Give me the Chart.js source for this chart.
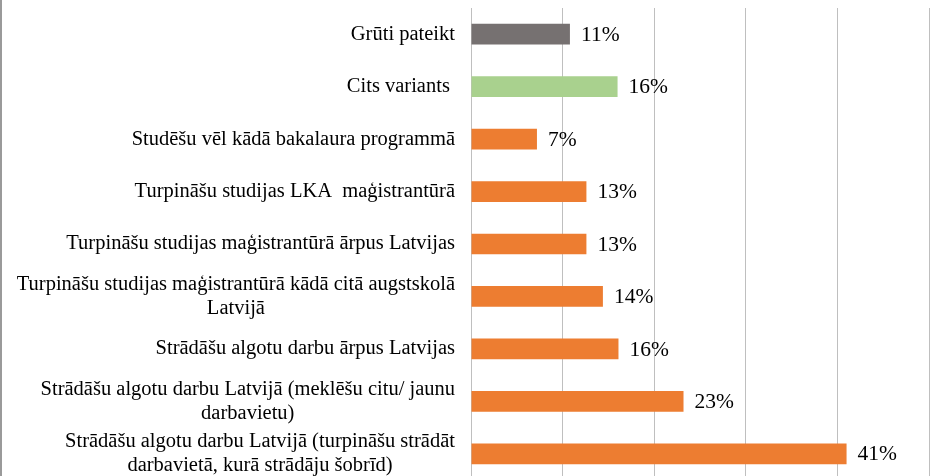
<!DOCTYPE html>
<html>
<head>
<meta charset="utf-8">
<script src="https://cdn.jsdelivr.net/npm/chart.js@4"></script>
<style>
  html, body { margin: 0; padding: 0; background: #fff; overflow: hidden; }
  #wrap { width: 935px; height: 476px; overflow: hidden; }
</style>
</head>
<body>
<div id="wrap"><canvas id="chart" width="935" height="480"></canvas></div>
<script>
// categories, top to bottom (multi-line labels as arrays)
const categories = [
    ["Grūti pateikt"],
    ["Cits variants "],
    ["Studēšu vēl kādā bakalaura programmā"],
    ["Turpināšu studijas LKA  maģistrantūrā"],
    ["Turpināšu studijas maģistrantūrā ārpus Latvijas"],
    ["Turpināšu studijas maģistrantūrā kādā citā augstskolā", "Latvijā"],
    ["Strādāšu algotu darbu ārpus Latvijas"],
    ["Strādāšu algotu darbu Latvijā (meklēšu citu/ jaunu", "darbavietu)"],
    ["Strādāšu algotu darbu Latvijā (turpināšu strādāt", "darbavietā, kurā strādāju šobrīd)"]
];

// share of respondents, %
const shares = [10.8, 16.0, 7.2, 12.6, 12.6, 14.4, 16.1, 23.2, 41.0];

const barColors = [
    "#767171", "#A9D18E", "#ED7D31", "#ED7D31", "#ED7D31",
    "#ED7D31", "#ED7D31", "#ED7D31", "#ED7D31"
];

const xTicks = [0, 10, 20, 30, 40, 50];

const FONT = "'Liberation Serif', 'Times New Roman', serif";

// category labels: block right-aligned to the axis, lines centred inside it
const categoryLabels = {
    id: "categoryLabels",
    afterDraw(chart) {
        const ctx = chart.ctx;
        const y = chart.scales.y;
        const right = chart.chartArea.left - 16;
        const lineH = 24;
        ctx.save();
        ctx.font = "20.5px " + FONT;
        ctx.fillStyle = "#000";
        ctx.textAlign = "center";
        ctx.textBaseline = "middle";
        categories.forEach((lines, i) => {
            const w = Math.max(...lines.map(l => ctx.measureText(l).width));
            const cx = right - w / 2;
            const cy = y.getPixelForTick(i);
            const top = cy - (lines.length - 1) * lineH / 2;
            lines.forEach((l, k) => ctx.fillText(l, cx, top + k * lineH));
        });
        ctx.restore();
    }
};

const valueLabels = {
    id: "valueLabels",
    afterDatasetsDraw(chart) {
        const ctx = chart.ctx;
        const meta = chart.getDatasetMeta(0);
        ctx.save();
        ctx.font = "21.5px " + FONT;
        ctx.fillStyle = "#000";
        ctx.textAlign = "left";
        ctx.textBaseline = "middle";
        meta.data.forEach((bar, i) => {
            ctx.fillText(Math.round(shares[i]) + "%", bar.x + 11, bar.y + 1);
        });
        ctx.restore();
    }
};

const frame = {
    id: "frame",
    beforeDraw(chart) {
        const ctx = chart.ctx;
        ctx.save();
        ctx.strokeStyle = "#9a9a9a";
        ctx.lineWidth = 2;
        ctx.beginPath();
        ctx.moveTo(1, 0);
        ctx.lineTo(1, chart.height);
        ctx.stroke();
        ctx.restore();
    }
};

new Chart(document.getElementById("chart"), {
    type: "bar",
    data: {
        labels: categories,
        datasets: [{
            data: shares,
            backgroundColor: barColors,
            barPercentage: 0.395,
            categoryPercentage: 1
        }]
    },
    options: {
        indexAxis: "y",
        responsive: false,
        animation: false,
        layout: { padding: { top: 8, right: 6, bottom: 0, left: 0 } },
        plugins: { legend: { display: false }, tooltip: { enabled: false } },
        scales: {
            x: {
                min: xTicks[0],
                max: xTicks[xTicks.length - 1],
                afterBuildTicks: scale => { scale.ticks = xTicks.map(v => ({ value: v })); },
                ticks: { display: false },
                grid: { color: "#bfbfbf", drawTicks: false },
                border: { display: false }
            },
            y: {
                ticks: { display: false },
                grid: { display: false },
                border: { display: false },
                afterFit: scale => { scale.width = 471; }
            }
        }
    },
    plugins: [frame, categoryLabels, valueLabels]
});
</script>
</body>
</html>
